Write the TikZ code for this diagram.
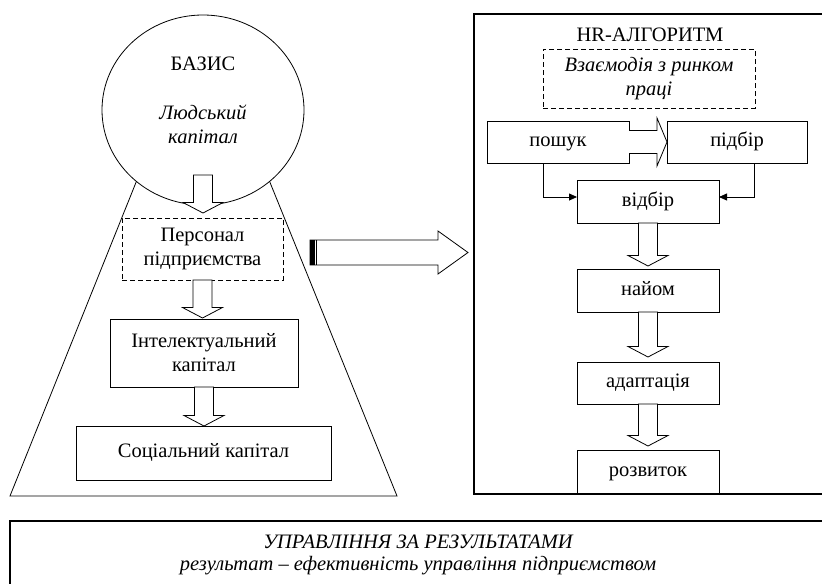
\documentclass[tikz,border=0pt]{standalone}
\usepackage{fontspec}
\setmainfont{Liberation Serif}
\usetikzlibrary{shapes.geometric,arrows.meta,calc}
\newcommand\fsz{\fontsize{20.5}{24}\selectfont}
% hollow block arrow pointing down: #1 start of shaft, #2 tip
\newcommand\hollowdown[2]{%
  \path let \p1=(#1), \p2=(#2) in
    [draw=black, fill=white, line width=0.8pt]
    (\x1-9.5pt,\y1) -- (\x1-9.5pt,\y2+10.5pt) -- (\x1-20pt,\y2+10.5pt) -- (\x1,\y2)
    -- (\x1+20pt,\y2+10.5pt) -- (\x1+9.5pt,\y2+10.5pt) -- (\x1+9.5pt,\y1) -- cycle;}
\tikzset{
  box/.style={draw, line width=0.8pt, align=center, inner sep=2pt, outer sep=0pt, font=\fsz},
  onebox/.style={box, text height=14pt, text depth=4.5pt},
  dbox/.style={box, dash pattern=on 5pt off 3pt},
  txt/.style={font=\fsz, align=center, inner sep=0pt},
  itxt/.style={font=\fsz\itshape, align=center, inner sep=0pt},
  conn/.style={line width=0.8pt, -{Triangle[length=8pt,width=7pt]}},
  frame/.style={line width=1.1pt, outer sep=0pt, inner sep=0pt}
}
\begin{document}
\begin{tikzpicture}[x=1pt, y=-1pt]
\useasboundingbox (0,0) rectangle (822,584);
% ---------- left part ----------
\node[ellipse, draw, line width=0.8pt, minimum width=202pt, minimum height=190pt, inner sep=0pt, outer sep=0pt] (basis) at (203,110) {};
\node[txt] (basistitle) at (203,64) {БАЗИС};
\node[itxt] (human) at (203,124) {Людський\\капітал};
\draw[line width=0.8pt] (basis.227) -- (10,496) -- (397,496) -- (basis.313);

\node[dbox, minimum width=161pt, minimum height=62pt] (staff) at (202.5,249) {Персонал\\підприємства};
\node[box, minimum width=188pt, minimum height=68pt] (intel) at (204,353) {Інтелектуальний\\капітал};
\node[onebox, minimum width=255pt, minimum height=54pt] (social) at (203.5,453) {Соціальний капітал};

\hollowdown{$(basis.south)+(0pt,30pt)$}{$(staff.north)+(0pt,5pt)$}
\hollowdown{staff.south}{$(intel.north)+(0pt,1pt)$}
\hollowdown{intel.south}{social.north}

% ---------- big arrow ----------
\draw[line width=0.8pt, fill=white] (310,240) -- (438,240) -- (438,231) -- (468,252.5) -- (438,274) -- (438,265) -- (310,265) -- cycle;
\fill (310,240) rectangle (314.5,265);
\draw[line width=0.8pt] (316.5,240) -- (316.5,265);

% ---------- right part ----------
\node[frame, minimum width=348pt, minimum height=480pt] (hr) at (648,254) {};
\draw[frame] (hr.north east) -- (hr.north west) -- (hr.south west) -- (hr.south east);
\node[txt] (hrtitle) at (650,35) {HR-АЛГОРИТМ};
\node[dbox, font=\fsz\itshape, minimum width=212pt, minimum height=59pt] (market) at (649,78.5) {Взаємодія з ринком\\праці};
\node[onebox, minimum width=142pt, minimum height=42pt] (poshuk) at (558,142) {пошук};
\node[onebox, minimum width=140pt, minimum height=42pt] (pidbir) at (737,142) {підбір};
\node[onebox, minimum width=142pt, minimum height=43pt] (vidbir) at (648,201.5) {відбір};
\node[onebox, minimum width=142pt, minimum height=43pt] (naim) at (648,290.5) {найом};
\node[onebox, minimum width=142pt, minimum height=42pt] (adapt) at (648,383) {адаптація};
\node[onebox, minimum width=142pt, minimum height=43pt] (rozv) at (648,471.5) {розвиток};

% horizontal hollow arrow poshuk -> pidbir
\path let \p1=(poshuk.east), \p2=(pidbir.west) in
  [draw=black, fill=white, line width=0.8pt]
  (\x1,\y1+11.5pt) -- (\x2-10pt,\y1+11.5pt) -- (\x2-10pt,\y1+24pt) -- (\x2,\y1)
  -- (\x2-10pt,\y1-24pt) -- (\x2-10pt,\y1-11.5pt) -- (\x1,\y1-11.5pt);

\draw[conn] (poshuk.south -| 543,0) |- ([yshift=4.5pt]vidbir.west);
\draw[conn] (pidbir.south -| 754,0) |- ([yshift=4.5pt]vidbir.east);

\hollowdown{vidbir.south}{$(naim.north)+(0pt,3pt)$}
\hollowdown{naim.south}{$(adapt.north)+(0pt,5pt)$}
\hollowdown{adapt.south}{$(rozv.north)+(0pt,4pt)$}

% ---------- bottom ----------
\node[frame, minimum width=812pt, minimum height=63pt] (result) at (416,552.5) {};
\draw[frame] (result.north east) -- (result.north west) -- (result.south west);
\node[itxt] (resulttitle) at (418,542) {УПРАВЛІННЯ ЗА РЕЗУЛЬТАТАМИ};
\node[itxt] (resulttext) at (418,566) {результат – ефективність управління підприємством};
\end{tikzpicture}
\end{document}
